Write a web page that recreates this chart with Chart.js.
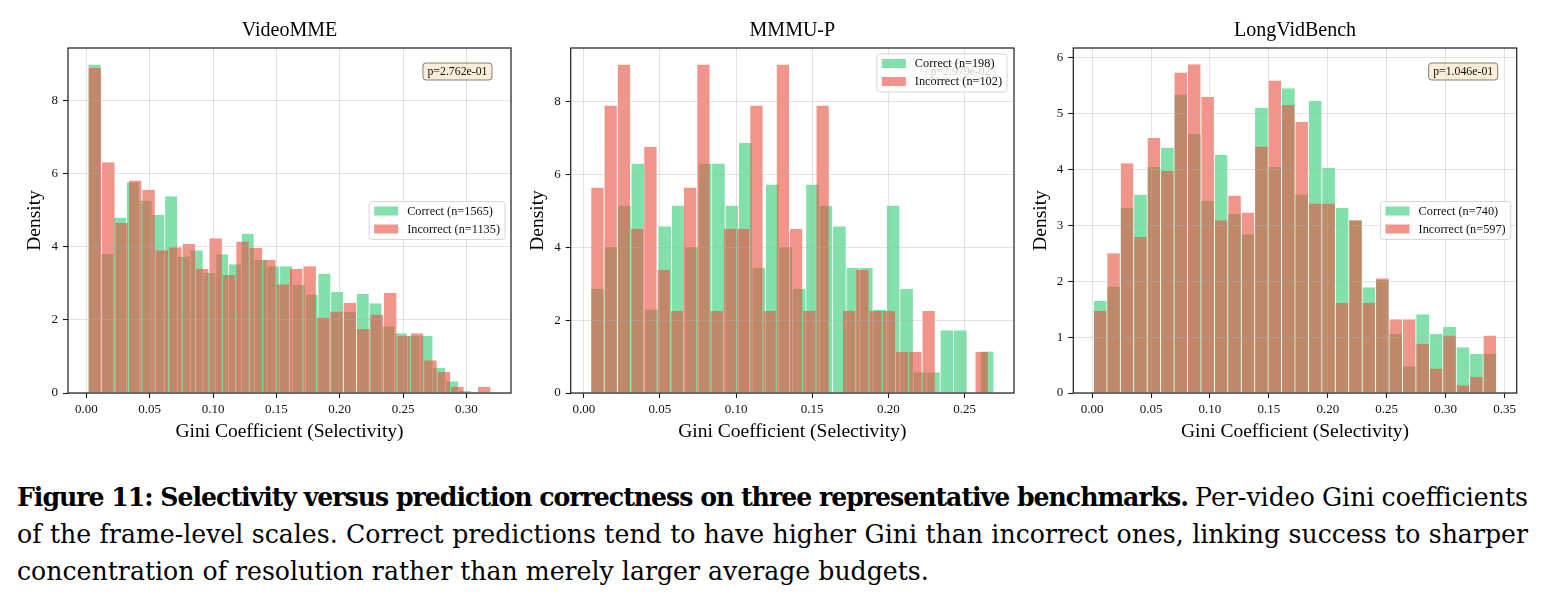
<!DOCTYPE html>
<html><head><meta charset="utf-8">
<script src="https://cdn.jsdelivr.net/npm/chart.js@4.4.1/dist/chart.umd.min.js"></script>
<style>
html,body{margin:0;padding:0;background:#fff;width:1544px;height:601px;overflow:hidden;position:relative;}
canvas{position:absolute;top:0;}
#cap{position:absolute;left:17px;top:479px;width:1511px;font-family:'DejaVu Serif',serif;color:#000;font-size:23px;}
#cap .ln{white-space:nowrap;line-height:37px;height:37px;}
</style></head><body>
<canvas id="c1" width="516" height="450" style="left:0px;width:516px;height:450px"></canvas>
<canvas id="c2" width="506" height="450" style="left:516px;width:506px;height:450px"></canvas>
<canvas id="c3" width="522" height="450" style="left:1022px;width:522px;height:450px"></canvas>
<div id="cap">
<div class="ln"><span id="l1"><b id="l1b">Figure 11: Selectivity versus prediction correctness on three representative benchmarks.</b><span id="l1r"> Per-video Gini coefficients</span></span></div>
<div class="ln"><span id="l2">of the frame-level scales. Correct predictions tend to have higher Gini than incorrect ones, linking success to sharper</span></div>
<div class="ln"><span id="l3">concentration of resolution rather than merely larger average budgets.</span></div>
</div>
<script>
// ---------------- data ----------------
const xAxisTitle = 'Gini Coefficient (Selectivity)';
const yAxisTitle = 'Density';

// VideoMME
const videoTitle = 'VideoMME';
const videoLabels = ['Correct (n=1565)', 'Incorrect (n=1135)'];
const videoPValue = 'p=2.762e-01';
const videoCorrectRange = [0.0014, 0.3038];
const videoIncorrectRange = [0.0014, 0.3193];
const videoCorrect = [9.00, 3.81, 4.81, 5.77, 5.27, 4.88, 5.39, 3.74, 3.91, 3.29, 3.80, 3.53, 4.36, 3.64, 3.47, 3.47, 2.96, 2.70, 3.27, 2.77, 2.22, 2.71, 2.46, 1.83, 1.64, 1.57, 1.57, 0.69, 0.32, 0.06];
const videoIncorrect = [8.90, 6.32, 4.66, 5.82, 5.57, 3.91, 3.99, 4.08, 3.40, 4.24, 3.23, 4.15, 3.97, 3.64, 2.98, 3.40, 3.47, 2.06, 2.23, 2.47, 1.75, 2.15, 2.74, 1.57, 1.64, 0.90, 0.58, 0.17, 0, 0.17];
const videoXTicks = [0, 0.05, 0.10, 0.15, 0.20, 0.25, 0.30];
const videoYTicks = [0, 2, 4, 6, 8];

// MMMU-P
const mmmuTitle = 'MMMU-P';
const mmmuLabels = ['Correct (n=198)', 'Incorrect (n=102)'];
const mmmuPValue = 'p=2.979e-02';
const mmmuCorrectRange = [0.0046, 0.2693];
const mmmuIncorrectRange = [0.0046, 0.2656];
const mmmuCorrect = [2.86, 4.01, 5.15, 6.30, 2.29, 4.58, 5.15, 4.01, 6.30, 6.30, 5.15, 6.87, 3.43, 5.72, 4.01, 2.86, 5.72, 5.15, 4.58, 3.43, 3.43, 2.29, 5.15, 2.86, 0.57, 0.57, 1.72, 1.72, 0, 1.14];
const mmmuIncorrect = [5.64, 7.89, 9.02, 4.51, 6.76, 3.38, 2.25, 5.64, 9.02, 2.25, 4.51, 4.51, 7.89, 2.25, 9.02, 4.51, 2.25, 7.89, 0, 2.25, 3.38, 2.25, 2.25, 1.13, 1.13, 2.25, 0, 0, 0, 1.13];
const mmmuXTicks = [0, 0.05, 0.10, 0.15, 0.20, 0.25];
const mmmuYTicks = [0, 2, 4, 6, 8];

// LongVidBench
const longTitle = 'LongVidBench';
const longLabels = ['Correct (n=740)', 'Incorrect (n=597)'];
const longPValue = 'p=1.046e-01';
const longCorrectRange = [0.0011, 0.3432];
const longIncorrectRange = [0.0011, 0.3432];
const longCorrect = [1.65, 1.90, 3.31, 3.55, 4.04, 4.39, 5.34, 4.63, 3.44, 4.26, 3.20, 2.84, 5.10, 4.04, 5.45, 3.55, 5.22, 4.03, 3.31, 3.09, 1.89, 2.02, 1.06, 0.48, 1.41, 1.06, 1.18, 0.82, 0.70, 0.70];
const longIncorrect = [1.47, 2.50, 4.11, 2.79, 4.56, 3.97, 5.73, 5.88, 5.30, 3.09, 3.53, 3.23, 4.41, 5.59, 5.15, 4.85, 3.39, 3.39, 1.61, 3.09, 1.61, 2.05, 1.32, 1.32, 0.88, 0.44, 1.03, 0.14, 0.29, 1.03];
const longXTicks = [0, 0.05, 0.10, 0.15, 0.20, 0.25, 0.30, 0.35];
const longYTicks = [0, 1, 2, 3, 4, 5, 6];

// ---------------- styling ----------------
const SERIF = "'Liberation Serif', 'Times New Roman', serif";
Chart.defaults.font.family = SERIF;
Chart.defaults.color = '#111';
const GREEN = 'rgba(46, 204, 113, 0.6)';
const RED = 'rgba(231, 76, 60, 0.6)';
const GRID = 'rgba(176, 176, 176, 0.35)';

function binPoints(values, range) {
  const w = (range[1] - range[0]) / values.length;
  return values.map((v, i) => ({x: range[0] + (i + 0.5) * w, y: v}));
}

function roundRectPath(ctx, x, y, w, h, r) {
  ctx.beginPath();
  ctx.moveTo(x + r, y);
  ctx.lineTo(x + w - r, y);
  ctx.arcTo(x + w, y, x + w, y + r, r);
  ctx.lineTo(x + w, y + h - r);
  ctx.arcTo(x + w, y + h, x + w - r, y + h, r);
  ctx.lineTo(x + r, y + h);
  ctx.arcTo(x, y + h, x, y + h - r, r);
  ctx.lineTo(x, y + r);
  ctx.arcTo(x, y, x + r, y, r);
  ctx.closePath();
}

const decor = {
  id: 'decor',
  afterDraw(chart, args, o) {
    const ctx = chart.ctx, a = chart.chartArea;
    ctx.save();
    // title centred over plot area
    ctx.font = '20px ' + SERIF;
    ctx.fillStyle = '#000';
    ctx.textAlign = 'center';
    ctx.textBaseline = 'middle';
    ctx.fillText(o.title, (a.left + a.right) / 2, 31);
    // frame (spines)
    ctx.strokeStyle = '#1a1a1a';
    ctx.lineWidth = 1.2;
    ctx.strokeRect(a.left, a.top, a.right - a.left, a.bottom - a.top);
    // p-value box
    if (o.pText) {
      ctx.font = '11.8px ' + SERIF;
      const tw = ctx.measureText(o.pText).width;
      const w = tw + 9, h = 17;
      const x = a.right - 19 - w, y = a.top + 15;
      roundRectPath(ctx, x, y, w, h, 3);
      ctx.fillStyle = 'rgba(245, 222, 179, 0.5)';
      ctx.fill();
      ctx.strokeStyle = 'rgba(60, 60, 60, 0.8)';
      ctx.lineWidth = 0.8;
      ctx.stroke();
      ctx.fillStyle = '#111';
      ctx.textAlign = 'center';
      ctx.textBaseline = 'middle';
      ctx.fillText(o.pText, x + w / 2, y + h / 2 + 0.5);
    }
    // legend
    const items = chart.data.datasets.map(d => ({label: d.label, color: d.backgroundColor}));
    ctx.font = '12.3px ' + SERIF;
    const tw = Math.max(...items.map(it => ctx.measureText(it.label).width));
    const pad = 5, sw = 24, sh = 9, gap = 9;
    const bw = pad + sw + gap + tw + 5, bh = 38;
    let bx, by;
    if (o.legendLoc === 'upper right') { bx = a.right - 7 - bw; by = a.top + 6; }
    else { bx = a.right - 6 - bw; by = (a.top + a.bottom) / 2 - bh / 2; }
    roundRectPath(ctx, bx, by, bw, bh, 3);
    ctx.fillStyle = 'rgba(255, 255, 255, 0.8)';
    ctx.fill();
    ctx.strokeStyle = '#d6d6d6';
    ctx.lineWidth = 1;
    ctx.stroke();
    items.forEach((it, i) => {
      const cy = by + 9.5 + i * 18;
      ctx.fillStyle = it.color;
      ctx.fillRect(bx + pad, cy - sh / 2, sw, sh);
      ctx.fillStyle = '#111';
      ctx.textAlign = 'left';
      ctx.textBaseline = 'middle';
      ctx.fillText(it.label, bx + pad + sw + gap, cy + 0.5);
    });
    ctx.restore();
  }
};
Chart.register(decor);

function makePanel(id, p) {
  const fixTicks = arr => (axis) => { axis.ticks = arr.map(v => ({value: v})); };
  const xCommon = {
    type: 'linear', min: p.xMin, max: p.xMax, offset: false,
    afterBuildTicks: fixTicks(p.xTicks)
  };
  return new Chart(document.getElementById(id), {
    type: 'bar',
    data: {
      datasets: [
        {label: p.labels[0], data: binPoints(p.correct, p.correctRange), xAxisID: 'x', backgroundColor: GREEN,
         order: 1, grouped: false, barPercentage: 1, categoryPercentage: 1, inflateAmount: 0,
         borderWidth: {left: 0.4, right: 0.4, top: 0, bottom: 0}, borderColor: 'rgba(255,255,255,0)'},
        {label: p.labels[1], data: binPoints(p.incorrect, p.incorrectRange), xAxisID: 'x2', backgroundColor: RED,
         order: 0, grouped: false, barPercentage: 1, categoryPercentage: 1, inflateAmount: 0,
         borderWidth: {left: 0.5, right: 0.5, top: 0, bottom: 0}, borderColor: 'rgba(255,255,255,0)'}
      ]
    },
    options: {
      responsive: false, animation: false, devicePixelRatio: 1,
      layout: {padding: {top: 48, right: p.padRight, left: 0, bottom: 0}},
      plugins: {
        legend: {display: false}, tooltip: {enabled: false}, title: {display: false},
        decor: {title: p.title, pText: p.pText, legendLoc: p.legendLoc}
      },
      scales: {
        x: Object.assign({}, xCommon, {
          position: 'bottom',
          grid: {z: 1, color: GRID, lineWidth: 1, offset: false, drawTicks: true, tickLength: 5, tickColor: '#1a1a1a', tickWidth: 1.1},
          border: {display: false},
          ticks: {font: {size: 13}, color: '#111', padding: 4, maxRotation: 0, autoSkip: false, callback: v => Number(v).toFixed(2)},
          title: {display: true, text: xAxisTitle, font: {size: 19.5}, color: '#000', padding: {top: 0, bottom: 6.3}},
          afterFit: s => { s.height = 57; }
        }),
        x2: Object.assign({}, xCommon, {display: false, grid: {display: false}}),
        y: {
          type: 'linear', min: 0, max: p.yMax, position: 'left',
          afterBuildTicks: fixTicks(p.yTicks),
          grid: {z: 1, color: GRID, lineWidth: 1, drawTicks: true, tickLength: 5, tickColor: '#1a1a1a', tickWidth: 1.1},
          border: {display: false},
          ticks: {font: {size: 13}, color: '#111', padding: 5, callback: v => String(v)},
          title: {display: true, text: yAxisTitle, font: {size: 19.5}, color: '#000', padding: {top: p.yTitlePad, bottom: 0}},
          afterFit: s => { s.width = p.yWidth; }
        }
      }
    }
  });
}

makePanel('c1', {
  title: videoTitle, labels: videoLabels, pText: videoPValue, legendLoc: 'center right',
  correct: videoCorrect, incorrect: videoIncorrect,
  correctRange: videoCorrectRange, incorrectRange: videoIncorrectRange,
  xMin: -0.0145, xMax: 0.3352, yMax: 9.45, xTicks: videoXTicks, yTicks: videoYTicks,
  yWidth: 68, padRight: 5, yTitlePad: 23.5
});
makePanel('c2', {
  title: mmmuTitle, labels: mmmuLabels, pText: mmmuPValue, legendLoc: 'upper right',
  correct: mmmuCorrect, incorrect: mmmuIncorrect,
  correctRange: mmmuCorrectRange, incorrectRange: mmmuIncorrectRange,
  xMin: -0.0086, xMax: 0.2825, yMax: 9.47, xTicks: mmmuXTicks, yTicks: mmmuYTicks,
  yWidth: 54.7, padRight: 8, yTitlePad: 10
});
makePanel('c3', {
  title: longTitle, labels: longLabels, pText: longPValue, legendLoc: 'center right',
  correct: longCorrect, incorrect: longIncorrect,
  correctRange: longCorrectRange, incorrectRange: longIncorrectRange,
  xMin: -0.016, xMax: 0.3603, yMax: 6.17, xTicks: longXTicks, yTicks: longYTicks,
  yWidth: 51.3, padRight: 27.3, yTitlePad: 7
});

// ---------------- caption fitting ----------------
function fitCaption() {
  const cap = document.getElementById('cap');
  const l1 = document.getElementById('l1'), l1b = document.getElementById('l1b'), l1r = document.getElementById('l1r');
  const l2 = document.getElementById('l2'), l3 = document.getElementById('l3');
  [l1b, l1r, l2].forEach(s => { s.style.wordSpacing = '0px'; s.style.letterSpacing = '0px'; });
  cap.style.fontSize = '23px';
  const w3 = l3.getBoundingClientRect().width;
  const fs = 23 * 912 / w3;
  cap.style.fontSize = fs + 'px';
  // bold lead: ends near x=1188 in the figure
  const boldTarget = 1171;
  const wb = l1b.getBoundingClientRect().width;
  l1b.style.letterSpacing = ((boldTarget - wb) / l1b.textContent.length) + 'px';
  const wr = l1r.getBoundingClientRect().width;
  const nr = (l1r.textContent.match(/ /g) || []).length;
  l1r.style.wordSpacing = ((1511 - boldTarget - wr) / nr) + 'px';
  const w2 = l2.getBoundingClientRect().width;
  const n2 = (l2.textContent.match(/ /g) || []).length;
  l2.style.wordSpacing = ((1511 - w2) / n2) + 'px';
}
fitCaption();
if (document.fonts && document.fonts.ready) document.fonts.ready.then(fitCaption);
</script>
</body></html>
